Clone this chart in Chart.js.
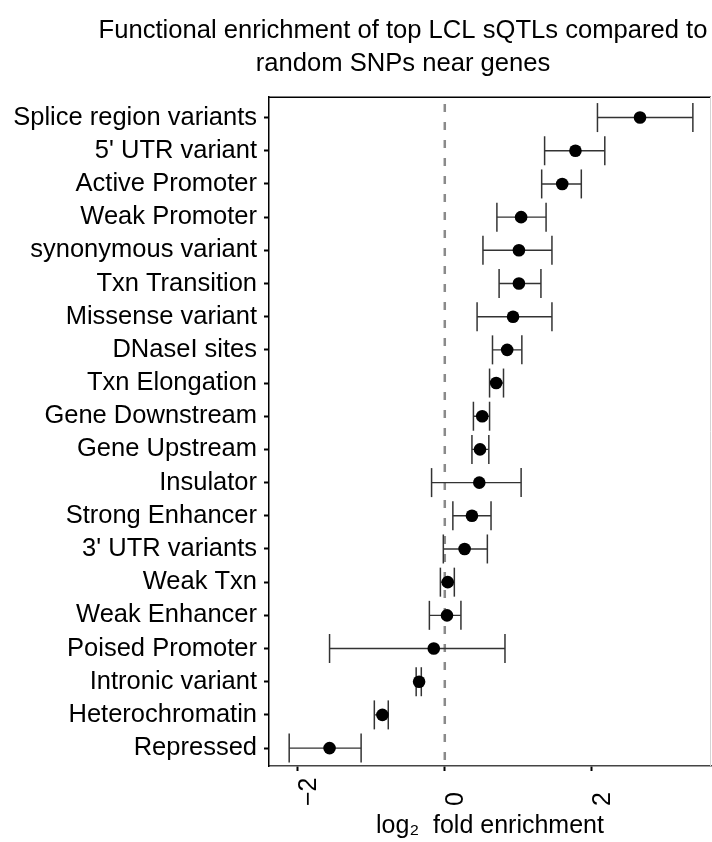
<!DOCTYPE html>
<html>
<head>
<meta charset="utf-8">
<script src="https://cdn.jsdelivr.net/npm/chart.js@4/dist/chart.umd.min.js"></script>
<style>
  html, body { margin: 0; padding: 0; background: #fff; overflow: hidden; }
  canvas { display: block; }
</style>
</head>
<body>
<canvas id="chart" width="712" height="842"></canvas>
<script>
// Annotation categories, top to bottom
const categories = [
  'Splice region variants', "5' UTR variant", 'Active Promoter', 'Weak Promoter',
  'synonymous variant', 'Txn Transition', 'Missense variant', 'DNaseI sites',
  'Txn Elongation', 'Gene Downstream', 'Gene Upstream', 'Insulator',
  'Strong Enhancer', "3' UTR variants", 'Weak Txn', 'Weak Enhancer',
  'Poised Promoter', 'Intronic variant', 'Heterochromatin', 'Repressed'
];
// log2 fold enrichment estimate with lower / upper interval bounds
const estimate = [2.66, 1.78, 1.60, 1.04, 1.01, 1.01, 0.93, 0.85, 0.70, 0.51,
                  0.48, 0.47, 0.37, 0.27, 0.04, 0.03, -0.15, -0.35, -0.85, -1.57];
const lower    = [2.08, 1.36, 1.32, 0.71, 0.52, 0.74, 0.44, 0.65, 0.61, 0.39,
                  0.37, -0.18, 0.11, -0.02, -0.06, -0.21, -1.57, -0.39, -0.96, -2.12];
const upper    = [3.38, 2.18, 1.86, 1.38, 1.46, 1.31, 1.46, 1.05, 0.80, 0.61,
                  0.60, 1.04, 0.63, 0.58, 0.13, 0.22, 0.82, -0.32, -0.77, -1.14];

const xTickValues = [-2, 0, 2];
const xTickLabels = ['\u22122', '0', '2'];
const titleLines = ['Functional enrichment of top LCL sQTLs compared to', 'random SNPs near genes'];
const xAxisTitle = 'log\u2082  fold enrichment';

const FONT = "'Liberation Sans', Arial, Helvetica, sans-serif";

// whisker segments, separated by gaps
const whiskerData = [];
categories.forEach((c, i) => {
  whiskerData.push({ x: lower[i], y: i }, { x: upper[i], y: i }, { x: null, y: null });
});
const capData = [];
categories.forEach((c, i) => {
  capData.push({ x: lower[i], y: i }, { x: upper[i], y: i });
});
const pointData = categories.map((c, i) => ({ x: estimate[i], y: i }));

// panel frame (top / right), zero reference line, rotated x tick labels, title
const decorations = {
  id: 'decorations',
  beforeDatasetsDraw(chart) {
    const { ctx, chartArea: a, scales } = chart;
    ctx.save();
    ctx.lineWidth = 1.5;
    ctx.strokeStyle = '#000';
    ctx.beginPath();
    ctx.moveTo(a.left, a.top + 0.25);
    ctx.lineTo(a.right, a.top + 0.25);
    ctx.stroke();
    ctx.lineWidth = 1;
    ctx.strokeStyle = '#d4d4d4';
    ctx.beginPath();
    ctx.moveTo(a.right - 0.5, a.top);
    ctx.lineTo(a.right - 0.5, a.bottom);
    ctx.stroke();
    // dashed line at zero
    const x0 = scales.x.getPixelForValue(0);
    ctx.strokeStyle = '#8a8a8a';
    ctx.lineWidth = 2.5;
    ctx.setLineDash([8, 10]);
    ctx.lineDashOffset = 12;
    ctx.beginPath();
    ctx.moveTo(x0, a.top + 1);
    ctx.lineTo(x0, a.bottom);
    ctx.stroke();
    ctx.restore();
  },
  afterDraw(chart) {
    const { ctx, chartArea: a, scales } = chart;
    ctx.save();
    ctx.fillStyle = '#000';
    ctx.font = `25px ${FONT}`;
    ctx.textAlign = 'left';
    ctx.textBaseline = 'alphabetic';
    xTickValues.forEach((v, i) => {
      const px = scales.x.getPixelForValue(v);
      ctx.save();
      ctx.translate(px + 18, a.bottom + 40);
      ctx.rotate(-Math.PI / 2);
      ctx.fillText(xTickLabels[i], 0, 0);
      ctx.restore();
    });
    ctx.font = `25.6px ${FONT}`;
    ctx.textAlign = 'center';
    ctx.fillText(titleLines[0], 403, 38);
    ctx.fillText(titleLines[1], 403, 71);
    ctx.restore();
  }
};

new Chart(document.getElementById('chart'), {
  type: 'scatter',
  data: {
    datasets: [
      {
        label: 'estimate',
        data: pointData,
        pointRadius: 6.3,
        pointBackgroundColor: '#000',
        pointBorderWidth: 0,
        showLine: false
      },
      {
        label: 'caps',
        data: capData,
        pointStyle: 'line',
        rotation: 90,
        pointRadius: 14.5,
        pointBorderColor: '#333',
        pointBorderWidth: 1.5,
        showLine: false
      },
      {
        label: 'interval',
        data: whiskerData,
        showLine: true,
        spanGaps: false,
        borderColor: '#333',
        borderWidth: 1.4,
        pointRadius: 0
      }
    ]
  },
  options: {
    responsive: false,
    animation: false,
    events: [],
    layout: { autoPadding: false, padding: { top: 97, right: 1, bottom: 0, left: 0 } },
    plugins: { legend: { display: false }, tooltip: { enabled: false }, title: { display: false } },
    scales: {
      x: {
        type: 'linear',
        min: -2.395,
        max: 3.627,
        afterBuildTicks: (s) => { s.ticks = xTickValues.map(v => ({ value: v })); },
        afterFit: (s) => { s.height = 76; },
        ticks: { display: false },
        grid: { drawOnChartArea: false, drawTicks: true, tickLength: 5, tickWidth: 2, tickColor: '#000', color: '#000' },
        border: { display: true, color: '#444', width: 1.5 },
        title: {
          display: true,
          text: xAxisTitle,
          color: '#000',
          font: { family: FONT, size: 25 },
          padding: { top: 0, bottom: 1 }
        }
      },
      y: {
        type: 'linear',
        reverse: true,
        min: -0.62,
        max: 19.54,
        afterBuildTicks: (s) => { s.ticks = categories.map((c, i) => ({ value: i })); },
        afterFit: (s) => { s.width = 269; },
        ticks: {
          autoSkip: false,
          color: '#000',
          padding: 7,
          font: { family: FONT, size: 25.5 },
          callback: (v) => categories[Math.round(v)]
        },
        grid: { drawOnChartArea: false, drawTicks: true, tickLength: 5, tickWidth: 2, tickColor: '#000', color: '#000' },
        border: { display: true, color: '#000', width: 1.5 }
      }
    }
  },
  plugins: [decorations]
});
</script>
</body>
</html>
